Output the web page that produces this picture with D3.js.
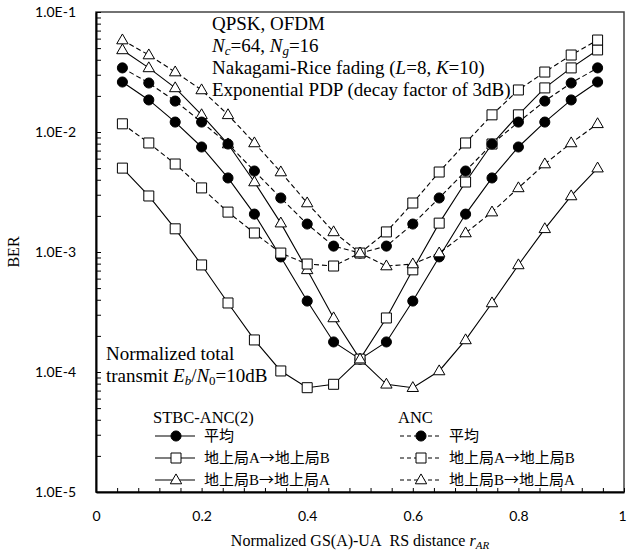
<!DOCTYPE html>
<html>
<head>
<meta charset="utf-8">
<script src="https://cdn.jsdelivr.net/npm/d3@7"></script>
<style>
  body { margin: 0; background: #fff; }
  .serif { font-family: "Liberation Serif", "Times New Roman", serif; fill: #000; }
  .tick text { font-family: Lato, "Open Sans", sans-serif; font-size: 14px; fill: #000; }
</style>
</head>
<body>
<div id="chart-area"></div>
<script>
// distance r_AR
var distances = [0.05, 0.1, 0.15, 0.2, 0.25, 0.3, 0.35, 0.4, 0.45, 0.5, 0.55, 0.6, 0.65, 0.7, 0.75, 0.8, 0.85, 0.9, 0.95];

// STBC-ANC(2)
var stbcAvg = [2.61e-2, 1.85e-2, 1.21e-2, 7.5e-3, 4.14e-3, 2.07e-3, 9.1e-4, 3.9e-4, 1.78e-4, 1.28e-4, 1.78e-4, 3.9e-4, 9.1e-4, 2.07e-3, 4.14e-3, 7.5e-3, 1.21e-2, 1.85e-2, 2.61e-2];
var stbcAB  = [5.0e-3, 2.93e-3, 1.56e-3, 7.8e-4, 3.76e-4, 1.85e-4, 1.02e-4, 7.4e-5, 7.9e-5, 1.28e-4, 2.82e-4, 7.1e-4, 1.74e-3, 3.83e-3, 7.94e-3, 1.39e-2, 2.33e-2, 3.42e-2, 4.83e-2];
var stbcBA  = [4.83e-2, 3.42e-2, 2.33e-2, 1.39e-2, 7.94e-3, 3.83e-3, 1.74e-3, 7.1e-4, 2.82e-4, 1.28e-4, 7.9e-5, 7.4e-5, 1.02e-4, 1.85e-4, 3.76e-4, 7.8e-4, 1.56e-3, 2.93e-3, 5.0e-3];

// ANC
var ancAvg = [3.42e-2, 2.56e-2, 1.81e-2, 1.21e-2, 7.94e-3, 4.73e-3, 2.82e-3, 1.71e-3, 1.12e-3, 9.8e-4, 1.12e-3, 1.71e-3, 2.82e-3, 4.73e-3, 7.94e-3, 1.21e-2, 1.81e-2, 2.56e-2, 3.42e-2];
var ancAB  = [1.17e-2, 8.1e-3, 5.41e-3, 3.42e-3, 2.15e-3, 1.44e-3, 9.8e-4, 7.94e-4, 7.64e-4, 9.8e-4, 1.47e-3, 2.56e-3, 4.64e-3, 8.1e-3, 1.39e-2, 2.24e-2, 3.16e-2, 4.38e-2, 5.84e-2];
var ancBA  = [5.84e-2, 4.38e-2, 3.16e-2, 2.24e-2, 1.39e-2, 8.1e-3, 4.64e-3, 2.56e-3, 1.47e-3, 9.8e-4, 7.64e-4, 7.94e-4, 9.8e-4, 1.44e-3, 2.15e-3, 3.42e-3, 5.41e-3, 8.1e-3, 1.17e-2];

var xTickLabels = [0, 0.2, 0.4, 0.6, 0.8, 1];
var yTickLabels = [1e-5, 1e-4, 1e-3, 1e-2, 1e-1];
// legend names: [from, to] around the arrow (avg has no arrow)
var legendNames = [["平均"], ["地上局A", "地上局B"], ["地上局B", "地上局A"]];

var series = [
  {values: stbcAvg, dashed: false, mark: "circle"},
  {values: stbcAB,  dashed: false, mark: "square"},
  {values: stbcBA,  dashed: false, mark: "triangle"},
  {values: ancAvg,  dashed: true,  mark: "circle"},
  {values: ancAB,   dashed: true,  mark: "square"},
  {values: ancBA,   dashed: true,  mark: "triangle"}
];

var W = 627, H = 553;
var margin = {left: 96, right: 3, top: 12, bottom: 61};

var svg = d3.select("#chart-area").append("svg")
  .attr("width", W).attr("height", H);

var x = d3.scaleLinear().domain([0, 1]).range([margin.left, W - margin.right]);
var y = d3.scaleLog().domain([1e-5, 1e-1]).range([H - margin.bottom, margin.top]);

var symbols = {
  circle:   d3.symbol().type(d3.symbolCircle).size(80),
  square:   d3.symbol().type(d3.symbolSquare).size(100),
  triangle: d3.symbol().type(d3.symbolTriangle).size(56)
};

function drawMark(g, type, cx, cy) {
  g.append("path")
    .attr("d", symbols[type]())
    .attr("transform", "translate(" + cx + "," + (type == "triangle" ? cy + 0.5 : cy) + ")")
    .attr("fill", type == "circle" ? "#000" : "#fff")
    .attr("stroke", "#000")
    .attr("stroke-width", 1);
}

// frame (top/right)
svg.append("rect")
  .attr("x", x(0)).attr("y", y(1e-1))
  .attr("width", x(1) - x(0)).attr("height", y(1e-5) - y(1e-1))
  .attr("fill", "none").attr("stroke", "#444").attr("stroke-width", 1.5);

// x axis ticks every 0.04, labels every 0.2
var xAxis = svg.append("g")
  .attr("transform", "translate(0," + y(1e-5) + ")")
  .call(d3.axisBottom(x).tickValues(d3.range(0, 1.001, 0.04)).tickSizeInner(-4).tickSizeOuter(0).tickFormat(""));
xAxis.select(".domain").attr("stroke", "#000").attr("stroke-width", 1.8);

var xLab = svg.append("g")
  .attr("transform", "translate(0," + y(1e-5) + ")")
  .call(d3.axisBottom(x).tickValues(xTickLabels).tickSize(0).tickPadding(19)
        .tickFormat(function(d) { return d == 0 || d == 1 ? d : d.toFixed(1); }))
  .call(function(g) { g.select(".domain").remove(); });
xLab.selectAll(".tick text").filter(function(d) { return d == 1; }).attr("dx", -2);

// y axis: log minor ticks
var yTicks = [];
yTickLabels.forEach(function(d, i) {
  if (i < yTickLabels.length - 1) {
    for (var k = 1; k < 10; k++) yTicks.push(d * k);
  } else yTicks.push(d);
});
var yAxis = svg.append("g")
  .attr("transform", "translate(" + x(0) + ",0)")
  .call(d3.axisLeft(y).tickValues(yTicks).tickSizeInner(-5).tickSizeOuter(0).tickPadding(20)
        .tickFormat(function(d) {
          var e = Math.log10(d);
          return Math.abs(e - Math.round(e)) < 1e-6 ? "1.0E" + Math.round(e) : "";
        }));
yAxis.select(".domain").attr("stroke", "#000").attr("stroke-width", 2);

// series
var line = d3.line()
  .x(function(d, i) { return x(distances[i]); })
  .y(function(d) { return y(d); });

var plot = svg.append("g");
series.forEach(function(s) {
  plot.append("path")
    .attr("d", line(s.values))
    .attr("fill", "none")
    .attr("stroke", "#000")
    .attr("stroke-width", 1.1)
    .attr("stroke-dasharray", s.dashed ? "5,3" : null);
});
series.forEach(function(s) {
  s.values.forEach(function(v, i) {
    drawMark(plot, s.mark, x(distances[i]), y(v));
  });
});

// annotations
var FS = 19, SUB = 13;
svg.append("text").attr("class", "serif").attr("font-size", FS).attr("x", 212).attr("y", 30)
  .text("QPSK, OFDM");
var t2 = svg.append("text").attr("class", "serif").attr("font-size", FS).attr("x", 212).attr("y", 52);
t2.append("tspan").attr("font-style", "italic").text("N");
t2.append("tspan").attr("font-style", "italic").attr("font-size", SUB).attr("dy", 3).text("c");
t2.append("tspan").attr("dy", -3).text("=64, ");
t2.append("tspan").attr("font-style", "italic").text("N");
t2.append("tspan").attr("font-style", "italic").attr("font-size", SUB).attr("dy", 3).text("g");
t2.append("tspan").attr("dy", -3).text("=16");
var t3 = svg.append("text").attr("class", "serif").attr("font-size", FS).attr("x", 212).attr("y", 74);
t3.append("tspan").text("Nakagami-Rice fading (");
t3.append("tspan").attr("font-style", "italic").text("L");
t3.append("tspan").text("=8, ");
t3.append("tspan").attr("font-style", "italic").text("K");
t3.append("tspan").text("=10)");
svg.append("text").attr("class", "serif").attr("font-size", FS).attr("x", 212).attr("y", 96)
  .text("Exponential PDP (decay factor of 3dB)");

svg.append("text").attr("class", "serif").attr("font-size", FS).attr("x", 106).attr("y", 360)
  .text("Normalized total");
var t5 = svg.append("text").attr("class", "serif").attr("font-size", FS).attr("x", 106).attr("y", 382);
t5.append("tspan").text("transmit ");
t5.append("tspan").attr("font-style", "italic").text("E");
t5.append("tspan").attr("font-style", "italic").attr("font-size", SUB).attr("dy", 3).text("b");
t5.append("tspan").attr("dy", -3).text("/");
t5.append("tspan").attr("font-style", "italic").text("N");
t5.append("tspan").attr("font-size", SUB).attr("dy", 3).text("0");
t5.append("tspan").attr("dy", -3).text("=10dB");

// legend
var legendCols = [
  {title: "STBC-ANC(2)", x: 153, dashed: false, list: series.slice(0, 3)},
  {title: "ANC", x: 398, dashed: true, list: series.slice(3, 6)}
];
legendCols.forEach(function(c) {
  var g = svg.append("g");
  g.append("text").attr("class", "serif").attr("font-size", 16.5).attr("x", c.x).attr("y", 423).text(c.title);
  c.list.forEach(function(s, i) {
    var ly = 436 + i * 22;
    g.append("line")
      .attr("x1", c.x + 2).attr("x2", c.x + 42).attr("y1", ly).attr("y2", ly)
      .attr("stroke", "#000").attr("stroke-width", 1.1)
      .attr("stroke-dasharray", c.dashed ? "4,3" : null);
    drawMark(g, s.mark, c.x + 23, ly);
    var t = g.append("text")
      .attr("x", c.x + 51).attr("y", ly + 5)
      .attr("font-family", "'Liberation Serif', 'Noto Sans CJK JP', serif")
      .attr("font-size", 15);
    t.append("tspan").text(legendNames[i][0]);
    if (legendNames[i].length > 1) {
      t.append("tspan").attr("font-family", "'Noto Sans CJK JP', sans-serif").text("→");
      t.append("tspan").text(legendNames[i][1]);
    }
  });
});

// axis titles
var xl = svg.append("text").attr("class", "serif").attr("font-size", 16)
  .attr("x", x(0.5)).attr("y", 546).attr("text-anchor", "middle");
xl.append("tspan").text("Normalized GS(A)-UA\u00a0\u00a0RS distance ");
xl.append("tspan").attr("font-style", "italic").text("r");
xl.append("tspan").attr("font-style", "italic").attr("font-size", 11).attr("dy", 3).text("AR");

svg.append("text").attr("class", "serif").attr("font-size", 16)
  .attr("transform", "translate(19," + y(1e-3) + ") rotate(-90)")
  .attr("text-anchor", "middle").text("BER");
</script>
</body>
</html>
